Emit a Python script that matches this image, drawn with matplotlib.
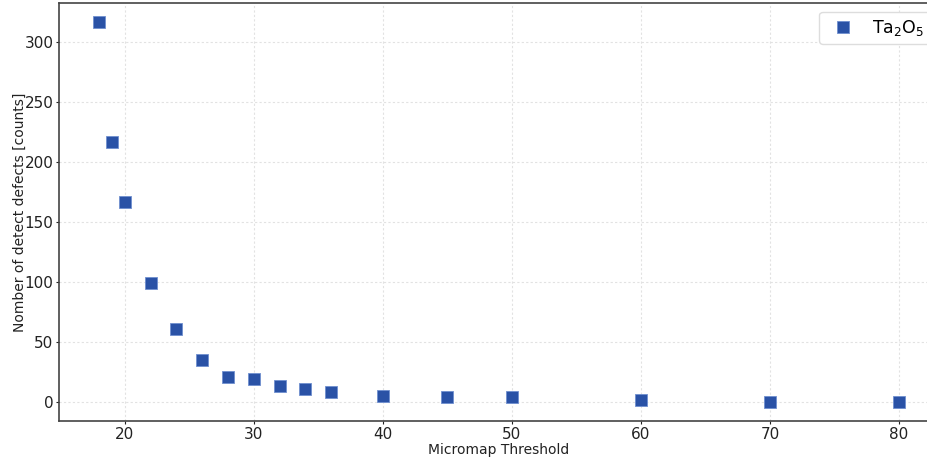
import matplotlib
matplotlib.use('Agg')
import matplotlib.pyplot as plt

# Micromap threshold vs detected defects
threshold = [18, 19, 20, 22, 24, 26, 28, 30, 32, 34, 36, 40, 45, 50, 60, 70, 80]
defects = [317, 217, 167, 99, 61, 35, 21, 19, 13, 11, 8, 5, 4, 4, 2, 0, 0]
series_label = 'Ta$_2$O$_5$'

fig = plt.figure(figsize=(9.28, 4.61), dpi=100)
# axes run past the right edge, as in the reference
ax = fig.add_axes([59/928, 40/461, 880/928, 418/461])

ax.plot(threshold, defects, 's', color='#2a52a6', markersize=8,
        markeredgecolor='#6f8fcf', markeredgewidth=0.6, label=series_label,
        linestyle='none')

ax.grid(True, linestyle=(0, (2, 2)), color='#e2e2e2', linewidth=0.8)
ax.set_xticks([20, 30, 40, 50, 60, 70, 80])
ax.set_yticks([0, 50, 100, 150, 200, 250, 300])
ax.tick_params(labelsize=11, colors='#222222', length=2, pad=2)
for s in ax.spines.values():
    s.set_color('#444444')
    s.set_linewidth(1.2)

ax.set_xlabel('Micromap Threshold', fontsize=10, color='#222222', labelpad=1)
ax.set_ylabel('Nomber of detect defects [counts]', fontsize=10, color='#222222', labelpad=-1.5)

ax.legend(loc='upper right', fontsize=12.5, markerscale=1, borderpad=0.35,
          handletextpad=0.7, framealpha=1, edgecolor='#dddddd')

fig.savefig('out.png', dpi=100)
